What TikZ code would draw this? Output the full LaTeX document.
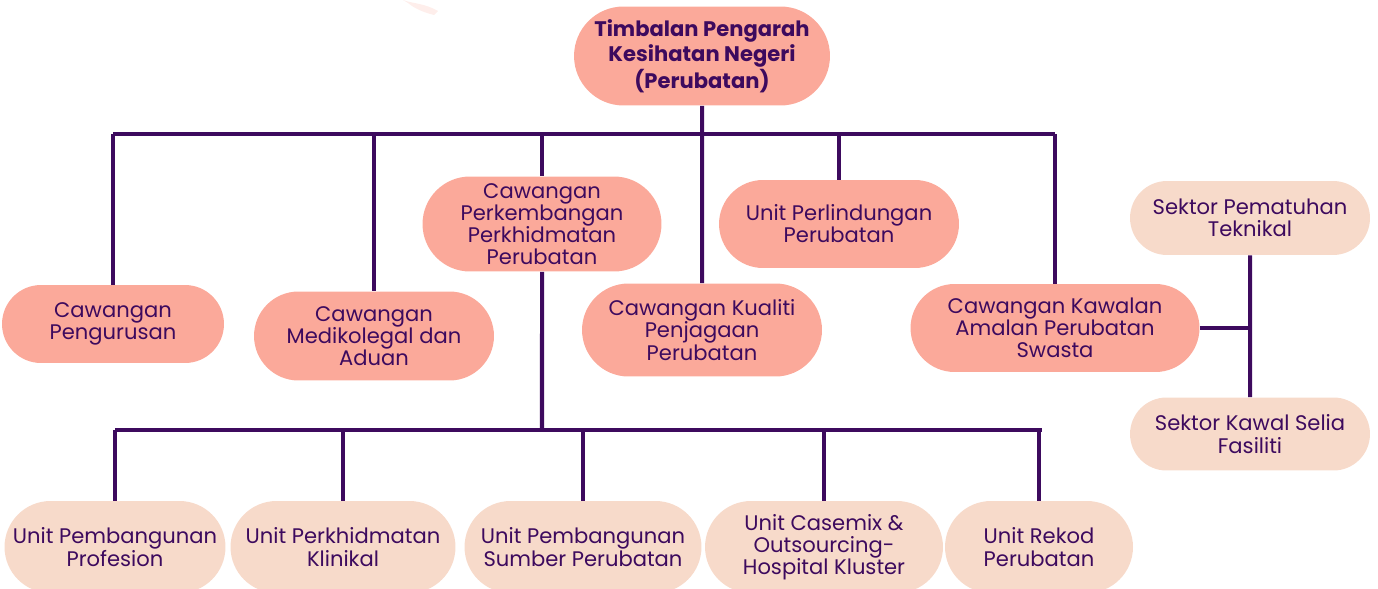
\documentclass[tikz,border=0pt]{standalone}
\usepackage{fontspec}
\setmainfont{Poppins}
\usetikzlibrary{shapes.misc}
\definecolor{salmon}{HTML}{FBA99A}
\definecolor{peach}{HTML}{F7DACA}
\definecolor{plum}{HTML}{3D0A5E}
\tikzset{unit/.style={rounded rectangle,fill=salmon,text=plum,align=center,inner sep=0pt,font=\fontsize{12}{12.6}\selectfont}}
\tikzset{head/.style={unit,font=\bfseries\fontsize{12}{14.2}\selectfont}}
\tikzset{sector/.style={unit,fill=peach}}
\tikzset{link/.style={draw=plum,line width=2.3pt}}

\begin{document}
\begin{tikzpicture}[x=0.02cm,y=-0.02cm]
                \useasboundingbox (0,0) rectangle (1378,588);
                \clip (0,0) rectangle (1378,588);
                \fill[salmon!20] (403,0) .. controls (414,4) and (424,3) .. (438,11) -- (434,15) .. controls (422,12) and (414,8) .. (408,3) -- cycle;
                % top level
                \node[head,minimum width=5.12cm,minimum height=1.98cm] (head) at (702,56) {Timbalan Pengarah\\Kesihatan Negeri\\(Perubatan)};
                \coordinate (busL) at (113,134);
                \coordinate (busR) at (1055,134);
                % branches
                \node[unit,minimum width=4.44cm,minimum height=1.56cm] (pengurusan) at (113,324) {Cawangan\\Pengurusan};
                \node[unit,minimum width=4.8cm,minimum height=1.78cm] (medikolegal) at (374,336) {Cawangan\\Medikolegal dan\\Aduan};
                \node[unit,minimum width=4.78cm,minimum height=1.9cm] (perkembangan) at (542,224) {Cawangan\\Perkembangan\\Perkhidmatan\\Perubatan};
                \node[unit,minimum width=4.8cm,minimum height=1.86cm] (kualiti) at (702,330) {Cawangan Kualiti\\Penjagaan\\Perubatan};
                \node[unit,minimum width=4.8cm,minimum height=1.76cm] (perlindungan) at (839,224) {Unit Perlindungan\\Perubatan};
                \node[unit,minimum width=5.78cm,minimum height=1.76cm] (kawalan) at (1055,328) {Cawangan Kawalan\\Amalan Perubatan\\Swasta};
                \draw[link] (busL) -- (busR);
                \draw[link] (head) -- (kualiti);
                \foreach \b in {pengurusan,medikolegal,perkembangan,perlindungan,kawalan}
                    \draw[link] (\b.north |- busL) -- (\b.north);
                % sectors
                \node[sector,minimum width=4.8cm,minimum height=1.48cm] (pematuhan) at (1250,218) {Sektor Pematuhan\\Teknikal};
                \node[sector,minimum width=4.8cm,minimum height=1.46cm] (fasiliti) at (1250,434) {Sektor Kawal Selia\\Fasiliti};
                \draw[link] (pematuhan) -- (fasiliti);
                \draw[link] (kawalan.east) -- (kawalan.east -| pematuhan);
                % units
                \coordinate (lowL) at (115,430);
                \coordinate (lowR) at (1042,430);
                \node[sector,minimum width=4.42cm,minimum height=1.84cm] (profesion) at (115,547) {Unit Pembangunan\\Profesion};
                \node[sector,minimum width=4.5cm,minimum height=1.84cm] (klinikal) at (343,547) {Unit Perkhidmatan\\Klinikal};
                \node[sector,minimum width=4.74cm,minimum height=1.84cm] (sumber) at (583,547) {Unit Pembangunan\\Sumber Perubatan};
                \node[sector,minimum width=4.76cm,minimum height=1.84cm] (casemix) at (824,547) {Unit Casemix \&\\Outsourcing-\\Hospital Kluster};
                \node[sector,minimum width=3.76cm,minimum height=1.84cm] (rekod) at (1039,547) {Unit Rekod\\Perubatan};
                \draw[link] (perkembangan) -- (perkembangan.south |- lowL);
                \draw[link] (lowL) -- (lowR);
                \foreach \u in {profesion,klinikal,sumber,casemix,rekod}
                    \draw[link] (\u.north |- lowL) -- (\u.north);
            \end{tikzpicture}
\end{document}
